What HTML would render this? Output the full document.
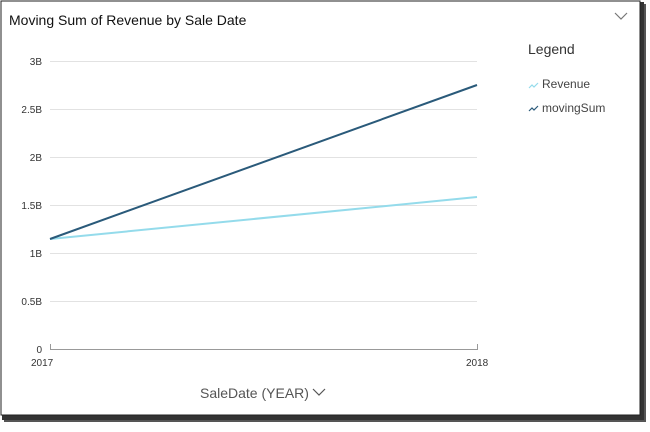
<!DOCTYPE html>
<html><head><style>
body{margin:0;width:650px;height:427px;background:#fff;overflow:hidden;font-family:"Liberation Sans",sans-serif}
</style></head><body>
<svg width="650" height="427" xmlns="http://www.w3.org/2000/svg" font-family="Liberation Sans, sans-serif">
<rect x="4" y="4" width="642" height="418" fill="#555"/>
<rect x="2" y="2" width="642" height="418" fill="#333"/>
<rect x="1" y="1" width="639" height="414" fill="#fff" stroke="#222" stroke-width="1"/>
<text x="9" y="25" font-size="14" fill="#111">Moving Sum of Revenue by Sale Date</text>
<path d="M615 13l6 6 6-6" fill="none" stroke="#777" stroke-width="1.2"/>
<g stroke="#e2e2e2" stroke-width="1">
<line x1="50" x2="477" y1="61.5" y2="61.5"/><line x1="50" x2="477" y1="109.5" y2="109.5"/>
<line x1="50" x2="477" y1="157.5" y2="157.5"/><line x1="50" x2="477" y1="205.5" y2="205.5"/>
<line x1="50" x2="477" y1="253.5" y2="253.5"/><line x1="50" x2="477" y1="301.5" y2="301.5"/>
</g>
<path d="M50.5 344v5.5h427v-5.5" fill="none" stroke="#999"/>
<g font-size="10" fill="#333" text-anchor="end">
<text x="42" y="65">3B</text><text x="42" y="113">2.5B</text><text x="42" y="161">2B</text>
<text x="42" y="209">1.5B</text><text x="42" y="257">1B</text><text x="42" y="305">0.5B</text><text x="42" y="353">0</text>
</g>
<g font-size="10" fill="#333"><text x="31" y="366">2017</text><text x="466" y="366">2018</text></g>
<text x="200" y="398" font-size="14" fill="#555">SaleDate (YEAR)</text>
<path d="M313 389l6 6 6-6" fill="none" stroke="#555" stroke-width="1.2"/>
<line x1="50" y1="239" x2="477" y2="197" stroke="#94dbeb" stroke-width="2"/>
<line x1="50" y1="239" x2="477" y2="85" stroke="#2a5a7a" stroke-width="2"/>
<text x="528" y="54" font-size="14" fill="#333">Legend</text>
<path d="M529 88l3-3 2 2 4-4" fill="none" stroke="#94dbeb" stroke-width="1.2"/>
<text x="542" y="88" font-size="12" fill="#444">Revenue</text>
<path d="M529 111l3-3 2 2 4-4" fill="none" stroke="#2a5a7a" stroke-width="1.2"/>
<text x="542" y="112" font-size="12" fill="#444">movingSum</text>
</svg>
</body></html>
